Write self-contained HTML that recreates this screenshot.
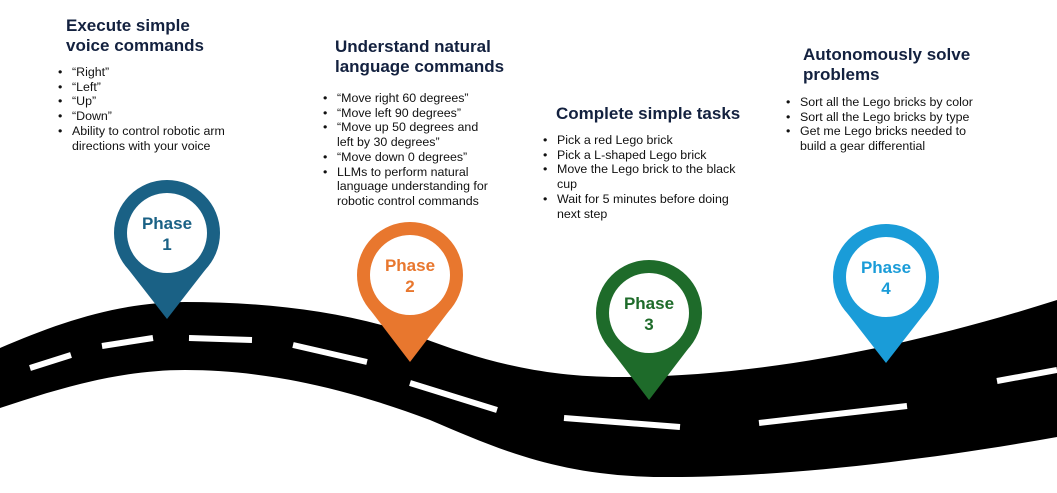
<!DOCTYPE html>
<html><head><meta charset="utf-8"><style>
body{margin:0;width:1057px;height:493px;background:#fff;position:relative;overflow:hidden;font-family:"Liberation Sans",Arial,sans-serif;}
.h{position:absolute;color:#13213f;font-weight:bold;font-size:17px;line-height:20px;white-space:nowrap;}
ul{position:absolute;margin:0;padding:0;list-style:none;font-size:12.4px;line-height:14.7px;color:#111;}
li{position:relative;padding-left:14px;}
li:before{content:"•";position:absolute;left:0;top:0;}
svg{position:absolute;left:0;top:0;}
</style></head><body>
<svg width="1057" height="493" viewBox="0 0 1057 493">
<path d="M0,348 C60,322 120,302 185,302 C270,302 350,312 420,337 C480,360 540,377 620,377 C750,377 900,350 1057,300 L1057,437 C900,465 760,478 660,477 C560,476 500,450 430,420 C350,390 270,370 185,370 C120,370 60,388 0,408 Z" fill="#000"/>
<g stroke="#fff" stroke-width="6" fill="none">
<line x1="30" y1="368" x2="71" y2="355"/>
<line x1="102" y1="346" x2="153" y2="338"/>
<line x1="189" y1="338" x2="252" y2="340"/>
<line x1="293" y1="345" x2="367" y2="362"/>
<line x1="410" y1="383" x2="497" y2="410"/>
<line x1="564" y1="418" x2="680" y2="427"/>
<line x1="759" y1="423" x2="907" y2="406"/>
<line x1="997" y1="381" x2="1057" y2="370"/>
</g>
<g font-family="Liberation Sans, Arial, sans-serif" font-weight="bold" font-size="17" text-anchor="middle">
<g transform="translate(167,233)" fill="#1a6185"><circle r="53"/><path d="M-42,32 L0,86 L42,32Z"/><circle r="40" fill="#fff"/><text y="-4">Phase</text><text y="17">1</text></g>
<g transform="translate(410,275)" fill="#e8772e"><circle r="53"/><path d="M-42,32 L0,87 L42,32Z"/><circle r="40" fill="#fff"/><text y="-4">Phase</text><text y="17">2</text></g>
<g transform="translate(649,313)" fill="#1e6b2a"><circle r="53"/><path d="M-42,32 L0,87 L42,32Z"/><circle r="40" fill="#fff"/><text y="-4">Phase</text><text y="17">3</text></g>
<g transform="translate(886,277)" fill="#1a9cd8"><circle r="53"/><path d="M-42,32 L0,86 L42,32Z"/><circle r="40" fill="#fff"/><text y="-4">Phase</text><text y="17">4</text></g>
</g>
</svg>
<div class="h" style="left:66px;top:16px;">Execute simple<br>voice commands</div>
<ul style="left:58px;top:65px;"><li>“Right”</li><li>“Left”</li><li>“Up”</li><li>“Down”</li><li>Ability to control robotic arm<br>directions with your voice</li></ul>
<div class="h" style="left:335px;top:37px;">Understand natural<br>language commands</div>
<ul style="left:323px;top:91px;"><li>“Move right 60 degrees”</li><li>“Move left 90 degrees”</li><li>“Move up 50 degrees and<br>left by 30 degrees”</li><li>“Move down 0 degrees”</li><li>LLMs to perform natural<br>language understanding for<br>robotic control commands</li></ul>
<div class="h" style="left:556px;top:104px;">Complete simple tasks</div>
<ul style="left:543px;top:133px;"><li>Pick a red Lego brick</li><li>Pick a L-shaped Lego brick</li><li>Move the Lego brick to the black<br>cup</li><li>Wait for 5 minutes before doing<br>next step</li></ul>
<div class="h" style="left:803px;top:45px;">Autonomously solve<br>problems</div>
<ul style="left:786px;top:95px;"><li>Sort all the Lego bricks by color</li><li>Sort all the Lego bricks by type</li><li>Get me Lego bricks needed to<br>build a gear differential</li></ul>
</body></html>
